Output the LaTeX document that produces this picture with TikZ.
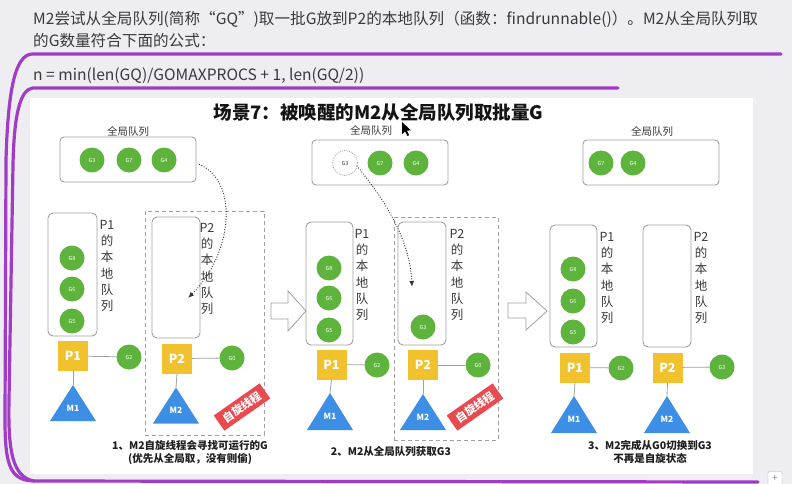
\documentclass[tikz,border=0pt]{standalone}
\usepackage{fontspec}
\setmainfont{Noto Sans CJK SC}
\usetikzlibrary{arrows.meta}
\definecolor{bgc}{HTML}{EEEDF2}
\definecolor{purp}{HTML}{A03CC6}
\definecolor{gre}{HTML}{5DB33C}
\definecolor{yel}{HTML}{F2C12E}
\definecolor{blu}{HTML}{3D8FE6}
\definecolor{boxg}{HTML}{A0A0A0}
\definecolor{stampred}{HTML}{E84A4F}
\definecolor{txt}{HTML}{3A3A3A}
\begin{document}
\begin{tikzpicture}[x=1pt,y=-1pt,
  gqbox/.style={draw=boxg, rounded corners=4pt, line width=0.9pt, minimum width=136pt, minimum height=45pt, inner sep=0pt},
  lqbox/.style={draw=boxg, rounded corners=5pt, line width=0.9pt, minimum width=48pt, minimum height=123pt, inner sep=0pt},
  mbox/.style={draw=boxg, dashed, dash pattern=on 4pt off 3pt, line width=0.8pt, inner sep=0pt},
  gball/.style={circle, fill=gre, minimum size=25pt, inner sep=0pt, text=white, font=\fontsize{5.5}{6}\selectfont},
  gghost/.style={circle, draw=boxg, densely dotted, line width=0.8pt, minimum size=25pt, inner sep=0pt, text=txt, font=\fontsize{5.5}{6}\selectfont},
  psq/.style={fill=yel, minimum size=30pt, inner sep=0pt, text=white, font=\bfseries\fontsize{12.5}{13}\selectfont},
  mlab/.style={text=white, font=\bfseries\fontsize{8.5}{9}\selectfont, inner sep=0pt},
  link/.style={draw=boxg, line width=0.8pt},
  vlab/.style={align=center, font=\fontsize{12.5}{16.3}\selectfont, text=txt, inner sep=0pt},
  qlab/.style={font=\fontsize{10.5}{12}\selectfont, text=txt, inner sep=0pt},
  stamp/.style={fill=stampred, text=white, font=\bfseries\fontsize{11}{11}\selectfont, inner xsep=6pt, inner ysep=4pt},
  capt/.style={font=\bfseries\fontsize{10.5}{13}\selectfont, text=black!88, align=center, inner sep=0pt},
  head/.style={font=\fontsize{15.6}{18}\selectfont, text=txt, anchor=west, inner sep=0pt},
  dotarrow/.style={line width=1.3pt, line cap=round, dash pattern=on 0pt off 2.6pt, draw=black!80, -{Latex[length=6pt,width=5pt]}},
  hollow/.style={draw=boxg, fill=white, line width=0.8pt, line join=miter},
  purpline/.style={draw=purp, line width=3.2pt, line cap=round, line join=round}
]
\useasboundingbox (0,0) rectangle (792,484);
\clip (0,0) rectangle (792,484);
\fill[bgc] (0,0) rectangle (792,484);
\fill[white] (30,98) rectangle (753,474);

% header text
\node[head] (h1) at (33,19) {M2尝试从全局队列(简称“GQ”)取一批G放到P2的本地队列（函数：findrunnable()）。M2从全局队列取};
\node[head] (h2) at (33,41) {的G数量符合下面的公式：};
\node[head] (h3) at (33,76) {n = min(len(GQ)/GOMAXPROCS + 1, len(GQ/2))};

% purple annotation lines
\draw[purpline] (781,54) -- (32,54) .. controls (15,55) and (8,90) .. (6,160) -- (5,420) .. controls (5,468) and (11,481) .. (36,481) -- (758,482);
\draw[purpline] (618,88) -- (33,88) .. controls (20,89) and (14,115) .. (13,165) -- (9,400) .. controls (8,450) and (12,477) .. (34,481);

% title
\node[font=\bfseries\fontsize{18.5}{20}\selectfont, text=black!92, inner sep=0pt] (title) at (378.5,112) {场景7：被唤醒的M2从全局队列取批量G};
% cursor
\fill[black] (402,122) -- (402,134.5) -- (405,131.3) -- (407.4,136) -- (409.2,135.2) -- (406.9,130.6) -- (411,130.4) -- cycle;

% ================= panel 1 =================
\node[qlab] (ql1) at (128,131) {全局队列};
\node[gqbox] (gq1) at (128,159.5) {};
\node[gball] (g3a) at (92,160) {G3};
\node[gball] (g7a) at (129,160) {G7};
\node[gball] (g4a) at (164,160) {G4};
\node[lqbox, minimum width=49pt] (lq1a) at (72.5,274.5) {};
\node[gball] (g8a) at (72,258) {G8};
\node[gball] (g6a) at (72,289) {G6};
\node[gball] (g5a) at (72,321) {G5};
\node[vlab] (vl1a) at (107,266) {P1\\的\\本\\地\\队\\列};
\node[mbox, minimum width=119pt, minimum height=224pt] (sp1) at (204.5,323) {};
\node[lqbox, minimum height=121pt] (lq1b) at (176,277.5) {};
\node[vlab] (vl1b) at (207,269) {P2\\的\\本\\地\\队\\列};
\node[psq] (p1a) at (73,356) {P1};
\node[gball] (g2a) at (129,357) {G2};
\draw[link] (p1a) -- (g2a);
\coordinate (m1atop) at (73,385);
\fill[blu] (m1atop) -- ++(23,36) -- ++(-46,0) -- cycle;
\node[mlab] (m1a) at (73,408) {M1};
\draw[link] (p1a.south) -- (m1atop);
\node[psq] (p2a) at (177,358.5) {P2};
\node[gball] (g0a) at (232,358) {G0};
\draw[link] (p2a) -- (g0a);
\coordinate (m2atop) at (176,387.5);
\fill[blu] (m2atop) -- ++(23,36) -- ++(-46,0) -- cycle;
\node[mlab] (m2a) at (176,410) {M2};
\draw[link] (p2a.south) -- (m2atop);
\node[stamp, rotate=35] (st1) at (242,407) {自旋线程};
\coordinate (arr1end) at (188,298);
\draw[dotarrow] (gq1.east) ++(3,5) .. controls (240,182) and (232,255) .. (arr1end);
\node[capt] (cap1) at (190,452.5) {1、M2自旋线程会寻找可运行的G\\(优先从全局取，没有则偷)};

% hollow arrow 1
\draw[hollow] (271,303) -- (288,303) -- (288,291) -- (306,311) -- (288,331) -- (288,319) -- (271,319) -- cycle;

% ================= panel 2 =================
\node[qlab] (ql2) at (371,130.5) {全局队列};
\node[gqbox] (gq2) at (380,162.5) {};
\node[gghost] (g3b) at (345,163) {G3};
\node[gball] (g7b) at (380,163) {G7};
\node[gball] (g4b) at (416,163) {G4};
\node[lqbox, minimum width=47pt] (lq2a) at (329.5,283.5) {};
\node[gball] (g8b) at (329,268) {G8};
\node[gball] (g6b) at (329,298) {G6};
\node[gball] (g5b) at (329,330) {G5};
\node[vlab] (vl2a) at (362,275) {P1\\的\\本\\地\\队\\列};
\node[mbox, minimum width=104pt, minimum height=223pt] (sp2) at (446,328.5) {};
\node[lqbox] (lq2b) at (422,283.5) {};
\node[gball] (g3c) at (423,327) {G3};
\node[vlab] (vl2b) at (457,275) {P2\\的\\本\\地\\队\\列};
\node[psq] (p1b) at (331.5,364.5) {P1};
\node[gball] (g2b) at (377,365) {G2};
\draw[link] (p1b) -- (g2b);
\coordinate (m1btop) at (330,393);
\fill[blu] (m1btop) -- ++(23,37) -- ++(-46,0) -- cycle;
\node[mlab] (m1b) at (330,416) {M1};
\draw[link] (p1b.south) -- (m1btop);
\node[psq] (p2b) at (423,365) {P2};
\node[gball] (g0b) at (478,365) {G0};
\draw[link] (p2b) -- (g0b);
\coordinate (m2btop) at (423,394);
\fill[blu] (m2btop) -- ++(23,36) -- ++(-46,0) -- cycle;
\node[mlab] (m2b) at (423,417) {M2};
\draw[link] (p2b.south) -- (m2btop);
\node[stamp, rotate=35] (st2) at (475,407) {自旋线程};
\coordinate (arr2end) at (412,287);
\draw[dotarrow] (g3b.east) ++(-1,3) .. controls (385,200) and (410,240) .. (arr2end);
\node[capt] (cap2) at (391,452) {2、M2从全局队列获取G3};

% hollow arrow 2
\draw[hollow] (508,303) -- (526,303) -- (526,292) -- (547,311) -- (526,330) -- (526,318) -- (508,318) -- cycle;

% ================= panel 3 =================
\node[qlab] (ql3) at (652,131) {全局队列};
\node[gqbox] (gq3) at (651,162.5) {};
\node[gball] (g7c) at (601,163) {G7};
\node[gball] (g4c) at (633,163) {G4};
\node[lqbox, minimum width=47pt, minimum height=122pt] (lq3a) at (573.5,286) {};
\node[gball] (g8c) at (573,269) {G8};
\node[gball] (g6c) at (573,301) {G6};
\node[gball] (g5c) at (573,332) {G5};
\node[vlab] (vl3a) at (607,278) {P1\\的\\本\\地\\队\\列};
\node[lqbox, minimum height=122pt] (lq3b) at (667,286) {};
\node[vlab] (vl3b) at (701,278) {P2\\的\\本\\地\\队\\列};
\node[psq] (p1c) at (575,367.5) {P1};
\node[gball] (g2c) at (621,368) {G2};
\draw[link] (p1c) -- (g2c);
\coordinate (m1ctop) at (574,396);
\fill[blu] (m1ctop) -- ++(23,37) -- ++(-46,0) -- cycle;
\node[mlab] (m1c) at (574,419) {M1};
\draw[link] (p1c.south) -- (m1ctop);
\node[psq] (p2c) at (667.5,367.5) {P2};
\node[gball] (g3d) at (722,367) {G3};
\draw[link] (p2c) -- (g3d);
\coordinate (m2ctop) at (667,396);
\fill[blu] (m2ctop) -- ++(23,37) -- ++(-46,0) -- cycle;
\node[mlab] (m2c) at (667,419) {M2};
\draw[link] (p2c.south) -- (m2ctop);
\node[capt] (cap3) at (650,451.5) {3、M2完成从G0切换到G3\\不再是自旋状态};

% plus button
\node[draw=black!30, fill=white, rounded corners=2pt, minimum size=14pt, inner sep=0pt, text=black!45, font=\fontsize{10}{10}\selectfont] (plus) at (775,478.5) {+};
\end{tikzpicture}
\end{document}
